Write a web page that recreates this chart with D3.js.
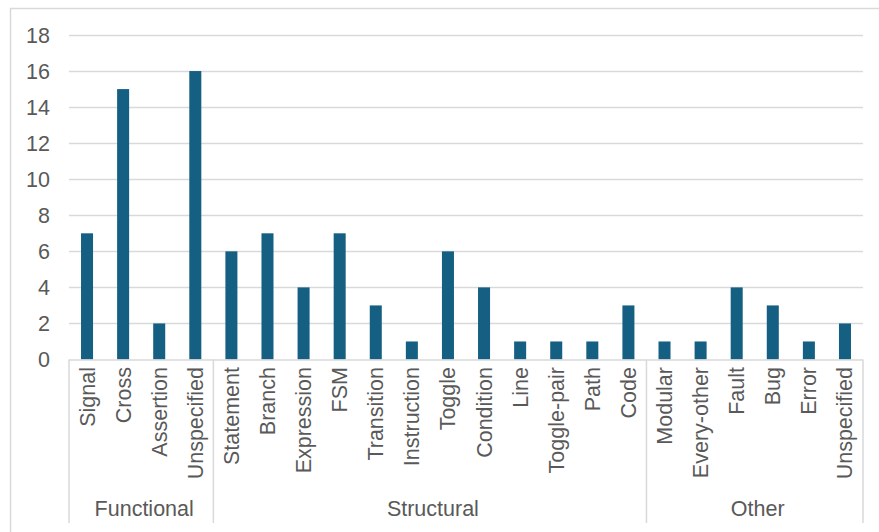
<!DOCTYPE html>
<html><head><meta charset="utf-8">
<script src="https://cdn.jsdelivr.net/npm/d3@7/dist/d3.min.js"></script>
<style>body{margin:0;background:#fff}svg{display:block}text{font-family:"Liberation Sans",Arial,sans-serif;fill:#595959}</style>
</head><body><svg id="c" width="879" height="532"></svg>
<script>
const categories = ["Signal","Cross","Assertion","Unspecified","Statement","Branch","Expression","FSM","Transition","Instruction","Toggle","Condition","Line","Toggle-pair","Path","Code","Modular","Every-other","Fault","Bug","Error","Unspecified"];
const values = [7,15,2,16,6,7,4,7,3,1,6,4,1,1,1,3,1,1,4,3,1,2];
const groups = ["Functional","Structural","Other"];
const groupSizes = [4,12,6];
const yTicks = [0,2,4,6,8,10,12,14,16,18];

(function(){
const svg = d3.select("#c");
const fs = 21.5;
const pLeft = 69, pRight = 863, pTop = 35, pBottom = 359.5;
const keys = categories.map((c,i)=>i);
const x = d3.scaleBand().domain(keys).range([pLeft,pRight]).paddingInner(0.667).paddingOuter(0.333);
const xs = d3.scaleLinear().domain([0,categories.length]).range([pLeft,pRight]);
const y = d3.scaleLinear().domain([0,18]).range([pBottom,pTop]);

svg.append("rect").attr("x",10.5).attr("y",8.5).attr("width",900).attr("height",600)
  .attr("fill","none").attr("stroke","#d9d9d9").attr("stroke-width",1.5);

svg.append("g").selectAll("line").data(yTicks.filter(d=>d>0)).join("line")
  .attr("x1",pLeft).attr("x2",pRight).attr("y1",d=>Math.round(y(d))+0.5).attr("y2",d=>Math.round(y(d))+0.5)
  .attr("stroke","#d9d9d9").attr("stroke-width",1.5);

svg.append("g").selectAll("text").data(yTicks).join("text")
  .attr("x",50).attr("y",d=>y(d)).attr("dy","0.36em").attr("text-anchor","end")
  .attr("font-size",fs).text(d=>d);

svg.append("g").selectAll("rect").data(values).join("rect")
  .attr("x",(d,i)=>x(i)).attr("width",x.bandwidth())
  .attr("y",d=>y(d)).attr("height",d=>y(0)-y(d)).attr("fill","#156082");

svg.append("line").attr("x1",pLeft).attr("x2",pRight).attr("y1",pBottom+0.5).attr("y2",pBottom+0.5)
  .attr("stroke","#d9d9d9").attr("stroke-width",1.5);

svg.append("g").selectAll("text").data(categories).join("text")
  .attr("transform",(d,i)=>`translate(${x(i)+x.bandwidth()/2+7.5},367) rotate(-90)`)
  .attr("text-anchor","end").attr("font-size",fs).text(d=>d);

let cum = [0];
groupSizes.forEach(s=>cum.push(cum[cum.length-1]+s));
svg.append("g").selectAll("line").data(cum).join("line")
  .attr("x1",d=>xs(d)).attr("x2",d=>xs(d)).attr("y1",pBottom).attr("y2",523)
  .attr("stroke","#d9d9d9").attr("stroke-width",1.5);
svg.append("g").selectAll("text").data(groups).join("text")
  .attr("x",(d,i)=>(xs(cum[i])+xs(cum[i+1]))/2+3).attr("y",516)
  .attr("text-anchor","middle").attr("font-size",fs).text(d=>d);
})();
</script></body></html>
